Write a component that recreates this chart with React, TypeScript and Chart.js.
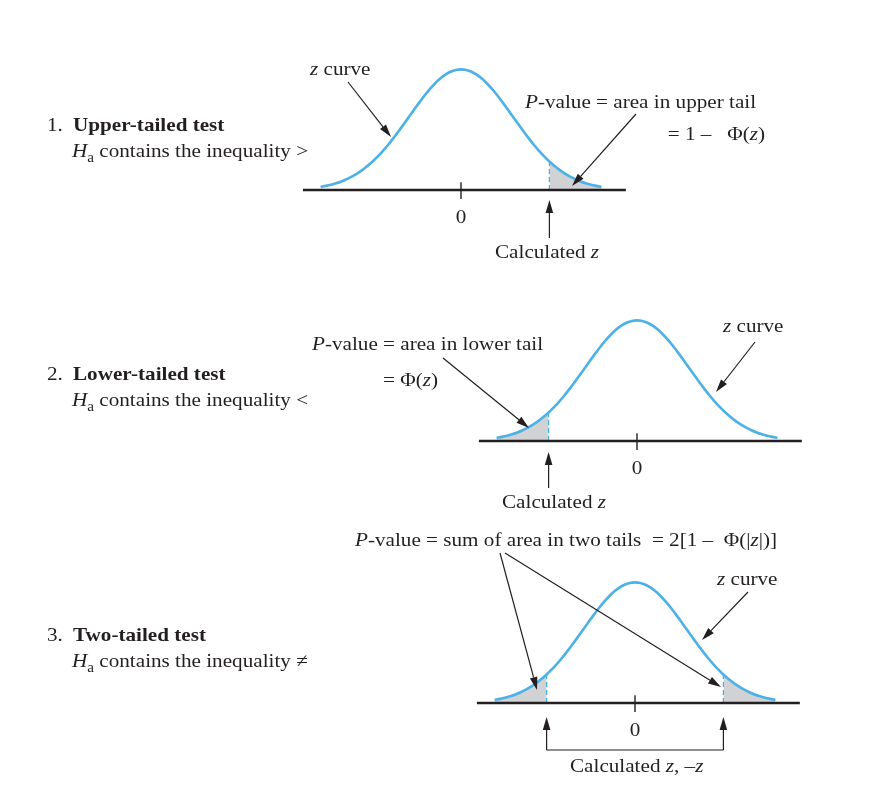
import React, { useEffect, useRef } from "react";
import { Chart, registerables } from "chart.js";

Chart.register(...registerables);

// ---- data (standard normal z curve) ----
const Z_GRID = [
  -2.7, -2.6, -2.5, -2.4, -2.3, -2.2, -2.1, -2.0, -1.9, -1.8, -1.7, -1.6, -1.5, -1.4,
  -1.3, -1.2, -1.1, -1.0, -0.9, -0.8, -0.7, -0.6, -0.5, -0.4, -0.3, -0.2, -0.1, 0.0,
  0.1, 0.2, 0.3, 0.4, 0.5, 0.6, 0.7, 0.8, 0.9, 1.0, 1.1, 1.2, 1.3, 1.4, 1.5, 1.6,
  1.7, 1.8, 1.9, 2.0, 2.1, 2.2, 2.3, 2.4, 2.5, 2.6, 2.7,
];
const DENSITY = [
  0.0104, 0.0136, 0.0175, 0.0224, 0.0283, 0.0355, 0.044, 0.054, 0.0656, 0.079, 0.094,
  0.1109, 0.1295, 0.1497, 0.1714, 0.1942, 0.2179, 0.242, 0.2661, 0.2897, 0.3123,
  0.3332, 0.3521, 0.3683, 0.3814, 0.391, 0.397, 0.3989, 0.397, 0.391, 0.3814, 0.3683,
  0.3521, 0.3332, 0.3123, 0.2897, 0.2661, 0.242, 0.2179, 0.1942, 0.1714, 0.1497,
  0.1295, 0.1109, 0.094, 0.079, 0.0656, 0.054, 0.044, 0.0355, 0.0283, 0.0224, 0.0175,
  0.0136, 0.0104,
];
const CALC_Z = 1.7;
const CALC_DENSITY = 0.094;
const AXIS_MIN = -3.04;
const AXIS_MAX = 3.17;
const TICK_LOW = -0.03;
const TICK_HIGH = 0.026;
const Y_MIN = -0.1;
const Y_MAX = 0.4;
const TAIL_MODES = ["upper", "lower", "both"];
const TEST_NUMBERS = ["1.", "2.", "3."];
const TEST_TITLES = ["Upper-tailed test", "Lower-tailed test", "Two-tailed test"];
const TEST_SYMBOLS = [">", "<", "≠"];
const CENTER_LABEL = "0";

// ---- styling / layout ----
const W = 878;
const H = 796;
const BLUE = "#4cb1e7";
const GRAY = "#d1d2d4";
const INK = "#231f20";
const SERIF = '"Liberation Serif", "Times New Roman", serif';
const FS = 19.5;
const SX = 1.085;
const PX_PER_Z = 52;
const CURVE_H = 121;
const PANELS = [
  { meanX: 461, baseY: 190 },
  { meanX: 637, baseY: 441 },
  { meanX: 635, baseY: 703 },
];

type Seg = { t: string; s?: "i" | "b" | "sub" };

function fontFor(s?: string) {
  if (s === "i") return `italic ${FS}px ${SERIF}`;
  if (s === "b") return `bold ${FS}px ${SERIF}`;
  if (s === "sub") return `${Math.round(FS * 0.72)}px ${SERIF}`;
  return `${FS}px ${SERIF}`;
}

function drawRich(ctx: CanvasRenderingContext2D, segs: Seg[], x: number, y: number, align = "left") {
  let total = 0;
  for (const sg of segs) {
    ctx.font = fontFor(sg.s);
    total += ctx.measureText(sg.t).width * SX;
  }
  let cx = x;
  if (align === "center") cx = x - total / 2;
  if (align === "right") cx = x - total;
  ctx.fillStyle = INK;
  ctx.textBaseline = "alphabetic";
  ctx.textAlign = "left";
  for (const sg of segs) {
    ctx.font = fontFor(sg.s);
    ctx.save();
    ctx.translate(cx, sg.s === "sub" ? y + 5 : y);
    ctx.scale(SX, 1);
    ctx.fillText(sg.t, 0, 0);
    ctx.restore();
    cx += ctx.measureText(sg.t).width * SX;
  }
}

function drawArrow(ctx: CanvasRenderingContext2D, x1: number, y1: number, x2: number, y2: number, lw = 1.2) {
  const ang = Math.atan2(y2 - y1, x2 - x1);
  const hl = 13;
  const hw = 3.8;
  const bx = x2 - hl * Math.cos(ang);
  const by = y2 - hl * Math.sin(ang);
  ctx.strokeStyle = INK;
  ctx.lineWidth = lw;
  ctx.beginPath();
  ctx.moveTo(x1, y1);
  ctx.lineTo(bx, by);
  ctx.stroke();
  ctx.fillStyle = INK;
  ctx.beginPath();
  ctx.moveTo(x2, y2);
  ctx.lineTo(bx + hw * Math.sin(ang), by - hw * Math.cos(ang));
  ctx.lineTo(bx - hw * Math.sin(ang), by + hw * Math.cos(ang));
  ctx.closePath();
  ctx.fill();
}

function drawLine(ctx: CanvasRenderingContext2D, pts: number[][], lw = 1.2) {
  ctx.strokeStyle = INK;
  ctx.lineWidth = lw;
  ctx.beginPath();
  pts.forEach((p, i) => (i === 0 ? ctx.moveTo(p[0], p[1]) : ctx.lineTo(p[0], p[1])));
  ctx.stroke();
}

function drawLeftLabel(ctx: CanvasRenderingContext2D, idx: number, y: number) {
  drawRich(ctx, [{ t: TEST_NUMBERS[idx] }], 47, y);
  drawRich(ctx, [{ t: TEST_TITLES[idx], s: "b" }], 73, y);
  drawRich(
    ctx,
    [{ t: "H", s: "i" }, { t: "a", s: "sub" }, { t: " contains the inequality " + TEST_SYMBOLS[idx] }],
    72,
    y + 26
  );
}

function annotate(idx: number) {
  return {
    id: "annot" + idx,
    afterDraw(chart: any) {
      const ctx: CanvasRenderingContext2D = chart.ctx;
      const xs = chart.scales.x;
      const ys = chart.scales.y;
      const px = (z: number) => xs.getPixelForValue(z);
      const py = (v: number) => ys.getPixelForValue(v);
      ctx.save();
      const base = py(0);
      drawRich(ctx, [{ t: CENTER_LABEL }], px(0), base + 33, "center");
      if (idx === 0) {
        drawLeftLabel(ctx, 0, 131);
        drawRich(ctx, [{ t: "z", s: "i" }, { t: " curve" }], 310, 75);
        drawArrow(ctx, 348, 82, 391, 137);
        drawRich(ctx, [{ t: "P", s: "i" }, { t: "-value = area in upper tail" }], 525, 108);
        drawRich(ctx, [{ t: "= 1 –   Φ(" }, { t: "z", s: "i" }, { t: ")" }], 765, 140, "right");
        drawArrow(ctx, 636, 114, 572, 186);
        const cx = px(CALC_Z);
        drawArrow(ctx, cx, base + 48, cx, base + 10);
        drawRich(ctx, [{ t: "Calculated " }, { t: "z", s: "i" }], 495, 258);
      } else if (idx === 1) {
        drawLeftLabel(ctx, 1, 380);
        drawRich(ctx, [{ t: "P", s: "i" }, { t: "-value = area in lower tail" }], 312, 350);
        drawRich(ctx, [{ t: "= Φ(" }, { t: "z", s: "i" }, { t: ")" }], 383, 386);
        drawArrow(ctx, 443, 358, 529, 428);
        drawRich(ctx, [{ t: "z", s: "i" }, { t: " curve" }], 723, 332);
        drawArrow(ctx, 755, 342, 716, 392);
        const cx = px(-CALC_Z);
        drawArrow(ctx, cx, base + 47, cx, base + 11);
        drawRich(ctx, [{ t: "Calculated " }, { t: "z", s: "i" }], 502, 508);
      } else {
        drawLeftLabel(ctx, 2, 641);
        drawRich(
          ctx,
          [
            { t: "P", s: "i" },
            { t: "-value = sum of area in two tails  = 2[1 –  Φ(|" },
            { t: "z", s: "i" },
            { t: "|)]" },
          ],
          355,
          546
        );
        drawArrow(ctx, 500, 553, 537, 690);
        drawArrow(ctx, 505, 553, 721, 687);
        drawRich(ctx, [{ t: "z", s: "i" }, { t: " curve" }], 717, 585);
        drawArrow(ctx, 748, 592, 702, 640);
        const lx = px(-CALC_Z);
        const rx = px(CALC_Z);
        drawLine(ctx, [[lx, base + 47], [rx, base + 47]]);
        drawArrow(ctx, lx, base + 47, lx, base + 14);
        drawArrow(ctx, rx, base + 47, rx, base + 14);
        drawRich(ctx, [{ t: "Calculated " }, { t: "z", s: "i" }, { t: ", –" }, { t: "z", s: "i" }], 570, 772);
      }
      ctx.restore();
    },
  };
}

function buildChart(canvas: HTMLCanvasElement, idx: number) {
  const p = PANELS[idx];
  const mode = TAIL_MODES[idx];
  const curve = Z_GRID.map((z, i) => ({ x: z, y: DENSITY[i] }));
  const upper = curve.filter((pt) => pt.x >= CALC_Z);
  const lower = curve.filter((pt) => pt.x <= -CALC_Z);
  const datasets: any[] = [
    {
      data: curve,
      borderColor: BLUE,
      borderWidth: 2.6,
      pointRadius: 0,
      tension: 0.35,
      fill: false,
      order: 0,
      clip: false,
    },
    {
      data: [
        { x: AXIS_MIN, y: 0 },
        { x: AXIS_MAX, y: 0 },
      ],
      borderColor: INK,
      borderWidth: 2.6,
      pointRadius: 0,
      fill: false,
      order: 1,
      clip: false,
    },
    {
      data: [
        { x: 0, y: TICK_LOW },
        { x: 0, y: TICK_HIGH },
      ],
      borderColor: INK,
      borderWidth: 1.4,
      pointRadius: 0,
      fill: false,
      order: 1,
      clip: false,
    },
  ];
  const tails: { x: number; y: number }[][] = [];
  const cuts: number[] = [];
  if (mode === "upper" || mode === "both") {
    tails.push(upper);
    cuts.push(CALC_Z);
  }
  if (mode === "lower" || mode === "both") {
    tails.push(lower);
    cuts.push(-CALC_Z);
  }
  tails.forEach((t) =>
    datasets.push({
      data: t,
      borderWidth: 0,
      borderColor: "rgba(0,0,0,0)",
      backgroundColor: GRAY,
      pointRadius: 0,
      tension: 0.35,
      fill: "origin",
      order: 3,
      clip: false,
    })
  );
  cuts.forEach((c) =>
    datasets.push({
      data: [
        { x: c, y: 0 },
        { x: c, y: CALC_DENSITY },
      ],
      borderColor: BLUE,
      borderWidth: 1.3,
      borderDash: [5, 3],
      pointRadius: 0,
      fill: false,
      order: 2,
      clip: false,
    })
  );
  const left = p.meanX - -AXIS_MIN * PX_PER_Z;
  const right = W - (p.meanX + AXIS_MAX * PX_PER_Z);
  const pxPerUnit = CURVE_H / Y_MAX;
  const top = p.baseY - CURVE_H;
  const bottom = H - (p.baseY - Y_MIN * pxPerUnit);
  return new Chart(canvas, {
    type: "line",
    data: { datasets },
    options: {
      animation: false,
      responsive: false,
      devicePixelRatio: 1,
      events: [],
      layout: { padding: { left, right, top, bottom } },
      plugins: { legend: { display: false }, tooltip: { enabled: false } },
      scales: {
        x: { type: "linear", min: AXIS_MIN, max: AXIS_MAX, display: false },
        y: { type: "linear", min: Y_MIN, max: Y_MAX, display: false },
      },
    },
    plugins: [annotate(idx)],
  } as any);
}

export default function App() {
  const r0 = useRef<HTMLCanvasElement>(null);
  const r1 = useRef<HTMLCanvasElement>(null);
  const r2 = useRef<HTMLCanvasElement>(null);
  useEffect(() => {
    document.body.style.margin = "0";
    const charts = [r0, r1, r2].map((r, i) => buildChart(r.current as HTMLCanvasElement, i));
    return () => charts.forEach((c) => c.destroy());
  }, []);
  const cs: React.CSSProperties = { position: "absolute", left: 0, top: 0, width: W, height: H };
  return (
    <div style={{ position: "relative", width: W, height: H, background: "#fff" }}>
      <canvas ref={r0} width={W} height={H} style={cs} />
      <canvas ref={r1} width={W} height={H} style={cs} />
      <canvas ref={r2} width={W} height={H} style={cs} />
    </div>
  );
}
